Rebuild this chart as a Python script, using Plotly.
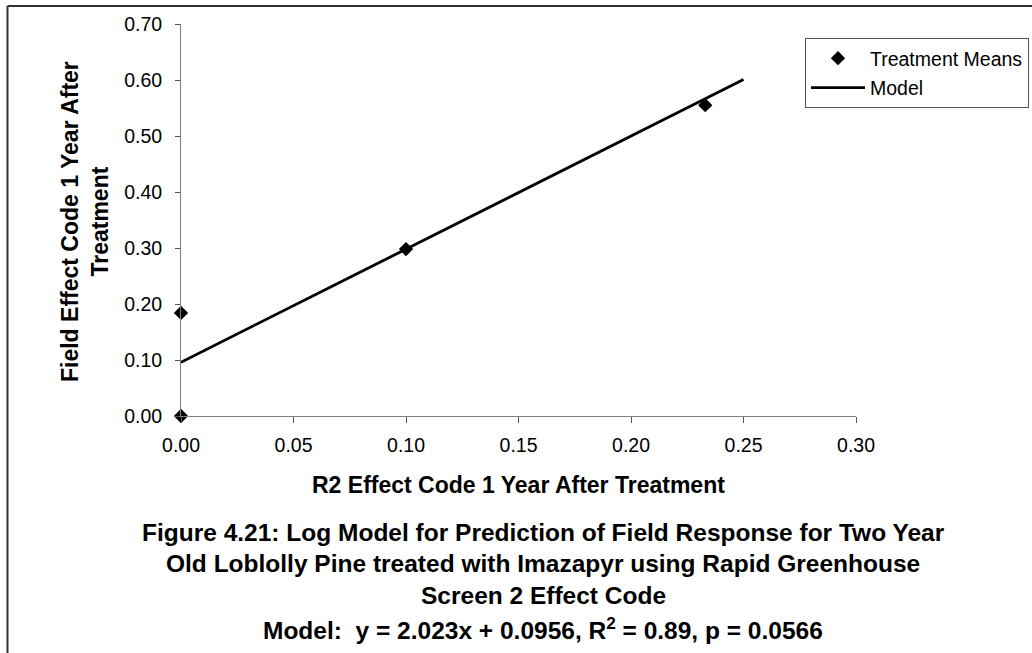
import plotly.graph_objects as go

# Data
mean_x = [0.0, 0.0, 0.100, 0.233]
mean_y = [0.000, 0.184, 0.298, 0.555]
model_x = [0.00, 0.05, 0.10, 0.15, 0.20, 0.25]
model_y = [0.096, 0.197, 0.298, 0.399, 0.500, 0.601]

x_title = "R2 Effect Code 1 Year After Treatment"
y_title = "Field Effect Code 1 Year After<br>Treatment"
caption_lines = [
    "Figure 4.21: Log Model for Prediction of Field Response for Two Year",
    "Old Loblolly Pine treated with Imazapyr using Rapid Greenhouse",
    "Screen 2 Effect Code",
    "Model:  y = 2.023x + 0.0956, R<sup>2</sup> = 0.89, p = 0.0566",
]

W, H = 1032, 653
L, R, T, B = 181, 176, 24, 237
PW, PH = W - L - R, H - T - B


def px(xp):
    return (xp - L) / PW


def py(yp):
    return (H - B - yp) / PH


FONT = "Liberation Sans, Arial, sans-serif"

fig = go.Figure()
fig.add_trace(go.Scatter(
    x=mean_x, y=mean_y, mode="markers", name="Treatment Means",
    marker=dict(symbol="diamond", size=11, color="black"),
    cliponaxis=False, legendgroup="a",
))
fig.add_trace(go.Scatter(
    x=model_x, y=model_y, mode="lines", name="Model",
    line=dict(color="black", width=2.8), legendgroup="b",
))

fig.update_layout(
    width=W, height=H,
    margin=dict(l=L, r=R, t=T, b=B, pad=0, autoexpand=False),
    paper_bgcolor="white", plot_bgcolor="white",
    font=dict(family=FONT, size=19.5, color="black"),
    showlegend=True,
    legend=dict(
        xref="container", yref="container",
        x=805 / W, y=1 - 38 / H, xanchor="left", yanchor="top",
        bordercolor="#555555", borderwidth=1, bgcolor="white",
        font=dict(size=19.5), itemwidth=54, tracegroupgap=1,
    ),
    xaxis=dict(
        range=[0, 0.30], dtick=0.05, tick0=0, tickformat=".2f",
        showgrid=False, zeroline=False, showline=True,
        linecolor="#808080", linewidth=1,
        ticks="outside", ticklen=6, tickcolor="#555555",
        tickfont=dict(size=19.5), ticklabelstandoff=6,
    ),
    yaxis=dict(
        range=[0, 0.70], dtick=0.1, tick0=0, tickformat=".2f",
        showgrid=False, zeroline=False, showline=True,
        linecolor="#808080", linewidth=1,
        ticks="outside", ticklen=5, tickcolor="#555555",
        tickfont=dict(size=19.5), ticklabelstandoff=9,
    ),
)

annotations = [
    dict(text="<b>%s</b>" % x_title, x=px(518), y=py(485), xref="paper", yref="paper",
         xanchor="center", yanchor="middle", showarrow=False, font=dict(size=23)),
    dict(text="<b>%s</b>" % y_title, x=px(85), y=py(222), xref="paper", yref="paper",
         xanchor="center", yanchor="middle", showarrow=False, textangle=-90,
         font=dict(size=23)),
]
cap_y = [532, 563, 595, 628]
for line, yy in zip(caption_lines, cap_y):
    annotations.append(dict(
        text="<b>%s</b>" % line, x=px(543), y=py(yy), xref="paper", yref="paper",
        xanchor="center", yanchor="middle", showarrow=False, font=dict(size=24.5)))
fig.update_layout(annotations=annotations)

# outer frame (left and top edges)
fig.add_shape(type="line", xref="paper", yref="paper",
              x0=px(7.5), x1=px(7.5), y0=py(6), y1=py(H + 5),
              line=dict(color="#333333", width=2))
fig.add_shape(type="line", xref="paper", yref="paper",
              x0=px(7.5), x1=px(W + 5), y0=py(6), y1=py(6),
              line=dict(color="#333333", width=2))

fig.write_html("out.html")
